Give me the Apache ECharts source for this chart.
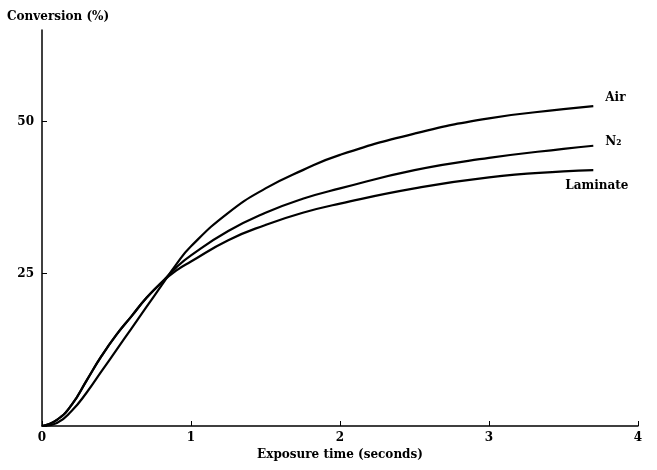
<!DOCTYPE html><html><head><meta charset="utf-8"><script src="https://cdn.jsdelivr.net/npm/echarts@6/dist/echarts.min.js"></script></head><body style="margin:0;background:#fff"><div id="c" style="width:657px;height:470px"></div><script>
const xs=[0,0.1,0.2,0.3,0.4,0.5,0.6,0.7,0.8,0.9,1.0,1.25,1.5,1.75,2.0,2.5,3.0,3.5,3.7];
const air=[0,0.5,2.5,5.5,9,12.5,16,19.5,23,26.5,29.5,35,39,42,44.5,48,50.5,52,52.5];
const n2=[0,1,3.5,7.5,11.5,15,18,21,23.5,26,28,32,35,37.3,39,42,44,45.5,46];
const lam=[0,1,3.5,7.5,11.5,15,18,21,23.5,25.5,27,30.5,33,35,36.5,39,40.8,41.8,42];
const names=['Air','N₂','Laminate'];
const font='"DejaVu Serif"';
const mk=(n,d,off)=>({name:n,type:'line',data:xs.map((x,i)=>[x,d[i]]),smooth:true,symbol:'none',lineStyle:{color:'#000',width:2.2},
 endLabel:{show:true,formatter:n,color:'#000',fontFamily:font,fontWeight:'bold',fontSize:12,offset:off}});
echarts.init(document.getElementById('c')).setOption({animation:false,
grid:{left:42,right:19,top:30,bottom:44},
title:{text:'Conversion (%)',left:2,top:6,textStyle:{fontFamily:font,fontWeight:'bold',fontSize:12,color:'#000'}},
xAxis:{type:'value',min:0,max:4,interval:1,name:'Exposure time (seconds)',nameLocation:'middle',nameGap:22,
 nameTextStyle:{fontFamily:font,fontWeight:'bold',fontSize:12,color:'#000'},
 axisLine:{lineStyle:{color:'#000',width:1.5}},axisTick:{inside:true,lineStyle:{color:'#000'}},splitLine:{show:false},
 axisLabel:{fontFamily:font,fontWeight:'bold',fontSize:12,color:'#000',margin:6}},
yAxis:{type:'value',min:0,max:65,interval:25,
 axisLine:{show:true,lineStyle:{color:'#000',width:1.5}},axisTick:{inside:true,lineStyle:{color:'#000'}},splitLine:{show:false},
 axisLabel:{fontFamily:font,fontWeight:'bold',fontSize:12,color:'#000',formatter:v=>v===0?'':v,showMaxLabel:false}},
series:[mk(names[0],air,[4,-8]),mk(names[1],n2,[4,-4]),mk(names[2],lam,[-36,16])]});
</script></body></html>
